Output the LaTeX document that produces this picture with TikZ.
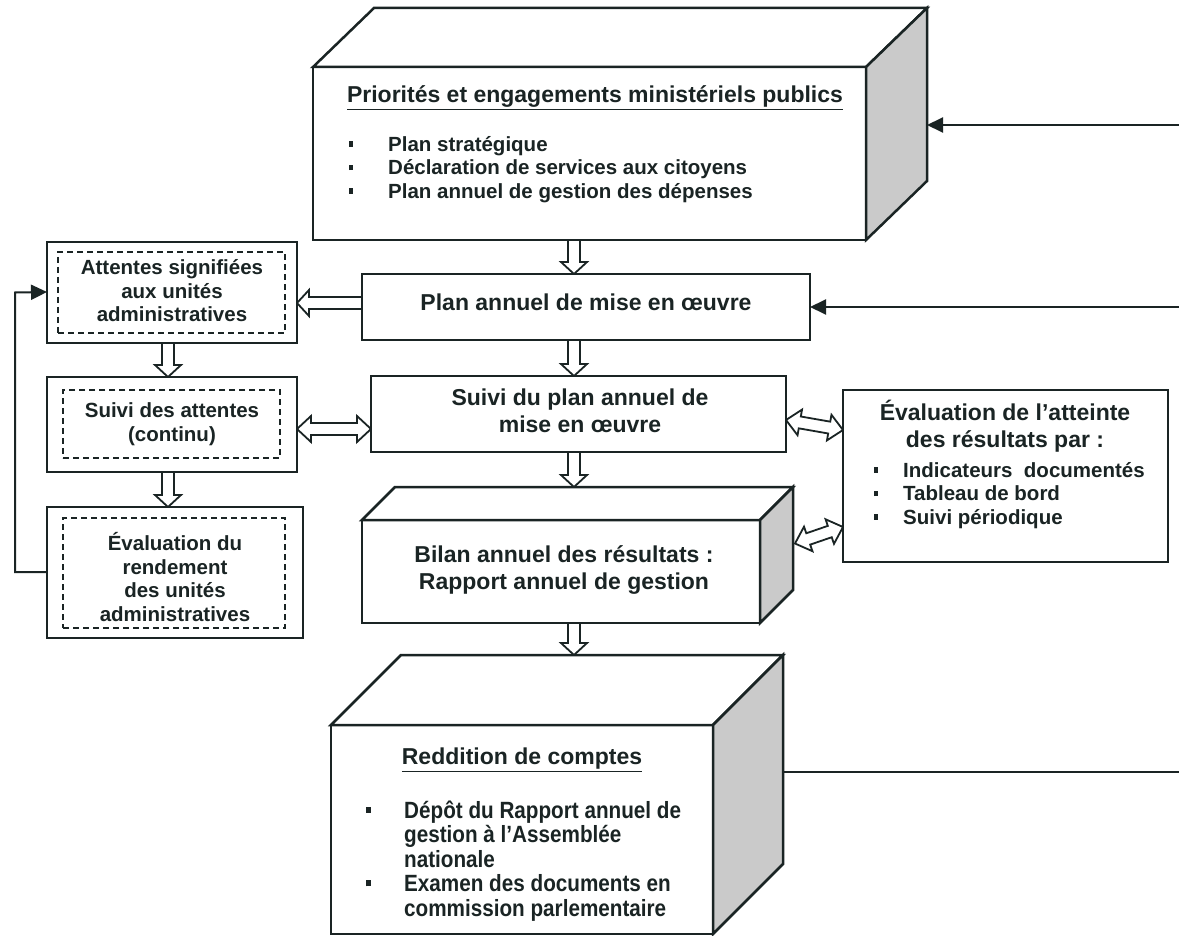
\documentclass[tikz,border=0pt]{standalone}
\usepackage{fontspec}
\setmainfont{Liberation Sans}
\newfontfamily\narrowfont{Liberation Sans}[FakeStretch=0.88]
\usetikzlibrary{calc,arrows.meta,fit,backgrounds}
\definecolor{ink}{HTML}{1A2424}
\definecolor{sideg}{HTML}{CACACA}
\newcommand\bul{\rule[0.22em]{0.2em}{0.26em}}
\tikzset{
  box/.style={draw=ink, line width=2.5pt, fill=white, rectangle, inner sep=0pt, outer sep=0pt},
  face/.style={draw=ink, line width=2.5pt, line join=miter},
  dbox/.style={draw=ink, line width=2pt, dash pattern=on 6pt off 4pt, rectangle, inner sep=0pt, outer sep=0pt},
  txt/.style={font=\bfseries\fontsize{20.5}{23.5}\selectfont, align=center, text=ink, inner sep=0pt},
  bigtxt/.style={font=\bfseries\fontsize{23}{27}\selectfont, align=center, text=ink, inner sep=0pt},
  harrow/.style={draw=ink, line width=1.8pt, fill=white, line join=miter},
  link/.style={draw=ink, line width=2pt},
  tip/.style={-{Triangle[length=16pt,width=15pt]}},
}
% hollow single-headed arrow
\newcommand\harr[2]{%
  \path (#1) coordinate (hA) (#2) coordinate (hB);
  \path ($(hB)!12pt!(hA)$) coordinate (hC);
  \draw[harrow] ($(hA)!6pt!90:(hB)$) -- ($(hC)!6pt!-90:(hA)$) -- ($(hC)!13pt!-90:(hA)$) -- (hB)
    -- ($(hC)!13pt!90:(hA)$) -- ($(hC)!6pt!90:(hA)$) -- ($(hA)!6pt!-90:(hB)$);
}
% hollow double-headed arrow
\newcommand\hdarr[2]{%
  \path (#1) coordinate (hA) (#2) coordinate (hB);
  \path ($(hB)!14pt!(hA)$) coordinate (hC) ($(hA)!14pt!(hB)$) coordinate (hD);
  \draw[harrow] (hA) -- ($(hD)!13pt!90:(hB)$) -- ($(hD)!6pt!90:(hB)$) -- ($(hC)!6pt!-90:(hA)$)
    -- ($(hC)!13pt!-90:(hA)$) -- (hB) -- ($(hC)!13pt!90:(hA)$) -- ($(hC)!6pt!90:(hA)$)
    -- ($(hD)!6pt!-90:(hB)$) -- ($(hD)!13pt!-90:(hB)$) -- cycle;
}
\begin{document}
\begin{tikzpicture}[x=1pt,y=-1pt]
\useasboundingbox (0,0) rectangle (1179,936);

% helper coordinates
\coordinate (colx) at (574,0);
\coordinate (colL) at (168,0);
\coordinate (fbx) at (15,0);
\coordinate (e1) at (1179,125);
\coordinate (e2) at (1179,307);
\coordinate (e3) at (1179,772);
\coordinate (y303) at (0,303);
\coordinate (y429) at (0,429);
\coordinate (y420) at (0,420);
\coordinate (y430) at (0,430);
\coordinate (y527) at (0,527);
\coordinate (y572) at (0,572);
\coordinate (y292) at (0,292);

% ---------- 3D box: priorities ----------
\node[box, fit={(313,67)(866,240)}] (prio) {};
\draw[face, fill=white] (prio.north west) -- ++(61,-59) -- ($(prio.north east)+(61,-59)$) -- (prio.north east) -- cycle;
\draw[face, fill=sideg] (prio.north east) -- ++(61,-59) -- ($(prio.south east)+(61,-59)$) -- (prio.south east) -- cycle;
\coordinate (prioback) at ($(prio.north east)+(61,-59)$);
\node[txt, font=\bfseries\fontsize{23}{27}\selectfont] (prioT) at (595,98) {\underline{Priorités et engagements ministériels publics}};
\node[txt, anchor=west, align=left] (prioB) at (349,170) {\begin{tabular}{@{}p{39pt}@{}l@{}}
\bul & Plan stratégique\\
\bul & Déclaration de services aux citoyens\\
\bul & Plan annuel de gestion des dépenses
\end{tabular}};

% ---------- flat boxes ----------
\node[box, fit={(362,274)(810,340)}] (plan) {};
\node[bigtxt] (planT) at (586,302) {Plan annuel de mise en œuvre};

\node[box, fit={(371,376)(786,452)}] (suivi) {};
\node[bigtxt] (suiviT) at (580,411) {Suivi du plan annuel de\\mise en œuvre};

\node[box, fit={(843,390)(1168,562)}] (evat) {};
\node[bigtxt] (evatT) at (1005,426) {Évaluation de l’atteinte\\des résultats par :};
\node[txt, anchor=west, align=left] (evatB) at (874,496) {\begin{tabular}{@{}p{29pt}@{}l@{}}
\bul & Indicateurs~ documentés\\
\bul & Tableau de bord\\
\bul & Suivi périodique
\end{tabular}};

% ---------- 3D box: bilan ----------
\node[box, fit={(362,520)(760,623)}] (bilan) {};
\draw[face, fill=white] (bilan.north west) -- ++(33,-33) -- ($(bilan.north east)+(33,-33)$) -- (bilan.north east) -- cycle;
\draw[face, fill=sideg] (bilan.north east) -- ++(33,-33) -- ($(bilan.south east)+(33,-33)$) -- (bilan.south east) -- cycle;
\coordinate (bilanback) at ($(bilan.north west)+(33,-33)$);
\coordinate (bilanside) at ($(bilan.east)+(35,-28)$);
\node[bigtxt] (bilanT) at (564,570) {Bilan annuel des résultats :\\Rapport annuel de gestion};

% ---------- 3D box: reddition ----------
\node[box, fit={(331,725)(713,934)}] (redd) {};
\draw[face, fill=white] (redd.north west) -- ++(70,-70) -- ($(redd.north east)+(70,-70)$) -- (redd.north east) -- cycle;
\draw[face, fill=sideg] (redd.north east) -- ++(70,-70) -- ($(redd.south east)+(70,-70)$) -- (redd.south east) -- cycle;
\coordinate (reddback) at ($(redd.north east)+(70,-70)$);
\coordinate (reddtop) at ($(redd.north west)+(0,-70)$);
\node[bigtxt] (reddT) at (522,760) {\underline{Reddition de comptes}};
\node[txt, anchor=west, align=left, font=\bfseries\narrowfont\fontsize{23.5}{24.5}\selectfont] (reddB) at (366,862) {\begin{tabular}{@{}p{38pt}@{}l@{}}
\bul & Dépôt du Rapport annuel de\\
 & gestion à l’Assemblée\\
 & nationale\\
\bul & Examen des documents en\\
 & commission parlementaire
\end{tabular}};

% ---------- left boxes ----------
\node[box, fit={(47,242)(297,343)}] (att) {};
\node[dbox, fit={(58,252)(285,333)}] (attD) {};
\node[txt] (attT) at (172,291) {Attentes signifiées\\aux unités\\administratives};

\node[box, fit={(47,377)(297,472)}] (suat) {};
\node[dbox, fit={(63,390)(280,458)}] (suatD) {};
\node[txt] (suatT) at (172,424) {Suivi des attentes\\(continu)};

\node[box, fit={(47,507)(303,638)}] (evr) {};
\node[dbox, fit={(63,518)(285,628)}] (evrD) {};
\node[txt] (evrT) at (175,577) {Évaluation du\\rendement\\des unités\\administratives};

% ---------- hollow arrows (behind the boxes) ----------
\begin{pgfonlayer}{background}
\fill[white] (0,0) rectangle (1179,936);
\harr{prio.south -| colx}{plan.north -| colx}
\harr{plan.south -| colx}{suivi.north -| colx}
\harr{suivi.south -| colx}{bilanback -| colx}
\harr{bilan.south -| colx}{reddtop -| colx}
\harr{plan.west |- y303}{att.east |- y303}
\harr{att.south -| colL}{suat.north -| colL}
\harr{suat.south -| colL}{evr.north -| colL}
\hdarr{suat.east |- y429}{suivi.west |- y429}
\hdarr{suivi.east |- y420}{evat.west |- y430}
\hdarr{bilanside}{evat.west |- y527}
\end{pgfonlayer}

% ---------- thin connectors ----------
\draw[link, tip] (e1) -- (prioback |- e1);
\draw[link, tip] (e2) -- (plan.east |- e2);
\draw[link] (reddback |- e3) -- (e3);
\draw[link, tip] (evr.west |- y572) -| (fbx |- att.west) -- (att.west |- y292);
\end{tikzpicture}
\end{document}
